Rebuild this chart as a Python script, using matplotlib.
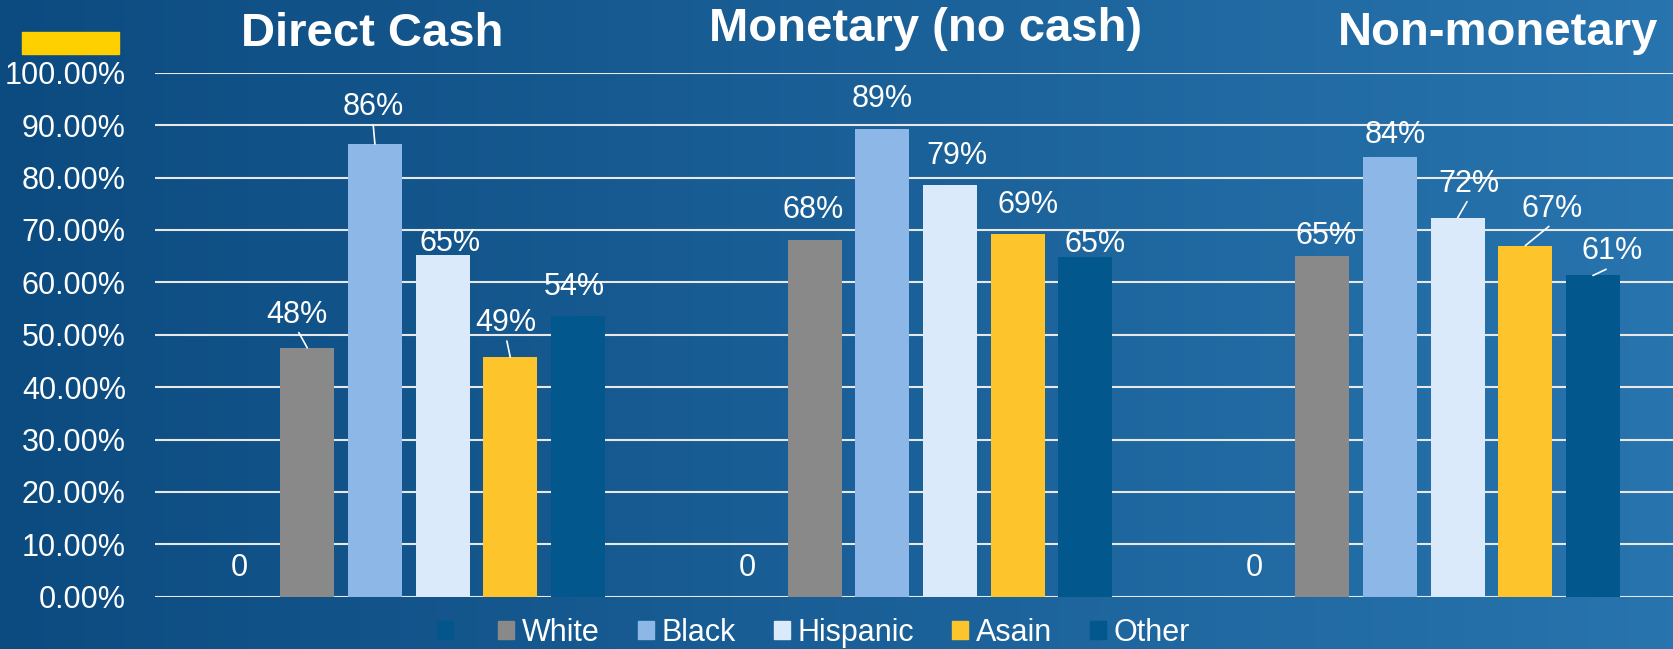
import matplotlib
matplotlib.use('Agg')
import matplotlib.pyplot as plt
from matplotlib.patches import Patch, Rectangle
from matplotlib.colors import LinearSegmentedColormap
import numpy as np

plt.rcParams['font.family'] = ['Liberation Sans', 'DejaVu Sans']

categories = ['Direct Cash', 'Monetary (no cash)', 'Non-monetary']
series_names = ['', 'White', 'Black', 'Hispanic', 'Asain', 'Other']

blank = [0, 0, 0]
white = [0.475, 0.681, 0.650]
black = [0.864, 0.892, 0.839]
hispanic = [0.652, 0.786, 0.723]
asain = [0.457, 0.692, 0.670]
other = [0.536, 0.648, 0.613]

blank_labels = ['0', '0', '0']
white_labels = ['48%', '68%', '65%']
black_labels = ['86%', '89%', '84%']
hispanic_labels = ['65%', '79%', '72%']
asain_labels = ['49%', '69%', '67%']
other_labels = ['54%', '65%', '61%']

values = [blank, white, black, hispanic, asain, other]
labels = [blank_labels, white_labels, black_labels, hispanic_labels, asain_labels, other_labels]
colors = ['#02568c', '#898989', '#8db7e6', '#dbeafb', '#fec42c', '#02578d']

# where each data label sits relative to the bar top (pixels), and which have leader lines
label_offsets = [
    [(0, 29), (0, 29), (0, 29)],
    [(-10, 33), (-2, 30), (4, 20)],
    [(-2, 37), (0, 30), (5, 22)],
    [(7, 12), (7, 29), (11, 34)],
    [(-4, 34), (10, 29), (27, 37)],
    [(-4, 29), (10, 13), (19, 24)],
]
leaders = {(1, 0), (2, 0), (4, 0), (3, 2), (4, 2), (5, 2)}

W, H = 1674, 649
fig = plt.figure(figsize=(W / 100, H / 100), dpi=100)

# gradient background
bg = fig.add_axes([0, 0, 1, 1], zorder=-10)
cmap = LinearSegmentedColormap.from_list('bg', ['#0c4b80', '#2874ae'])
bg.imshow(np.linspace(0, 1, 256).reshape(1, -1), aspect='auto', cmap=cmap, extent=[0, 1, 0, 1])
bg.axis('off')

ax = fig.add_axes([155 / W, 1 - 596.7 / H, (W - 155) / W, 524 / H])
ax.set_facecolor('none')

x = np.arange(len(categories))
step = 0.8 / len(series_names)
width = 0.1064
for i, (vals, labs, col) in enumerate(zip(values, labels, colors)):
    pos = x + (i - 2.5) * step
    ax.bar(pos, vals, width, color=col, zorder=3)
    for j in range(len(categories)):
        dx, dy = label_offsets[i][j]
        arrow = None
        if (i, j) in leaders:
            arrow = dict(arrowstyle='-', color='white', lw=1.2, shrinkA=0, shrinkB=0, relpos=(0.5, 0.0))
        ax.annotate(labs[j], xy=(pos[j], vals[j]), xytext=(dx, dy), textcoords='offset pixels',
                    ha='center', va='center', color='white', fontsize=22, zorder=5,
                    arrowprops=arrow)

ax.set_xlim(-0.5, 2.493)
ax.set_ylim(0, 1.0)
ax.set_yticks(np.arange(0, 1.01, 0.1))
ax.set_yticklabels([f'{v * 100:.2f}%' for v in np.arange(0, 1.01, 0.1)])
ax.set_xticks([])
ax.tick_params(axis='y', length=0, pad=21, labelsize=22, labelcolor='white')
ax.yaxis.grid(True, color='#e8e8e8', lw=1.5, zorder=0)
for s in ax.spines.values():
    s.set_visible(False)

# titles
fig.text(372 / W, 1 - 46.4 / H, categories[0], ha='center', va='baseline', color='white', fontsize=34, fontweight='bold')
fig.text(926 / W, 1 - 40.7 / H, categories[1], ha='center', va='baseline', color='white', fontsize=34, fontweight='bold')
fig.text(1498 / W, 1 - 45 / H, categories[2], ha='center', va='baseline', color='white', fontsize=34, fontweight='bold')

fig.patches.append(Rectangle((22.5 / W, 1 - 53.6 / H), 96.5 / W, 21.6 / H, transform=fig.transFigure,
                             color='#ffd000', zorder=2))

handles = [Patch(color=c) for c in colors]
leg = fig.legend(handles, series_names, loc='center', bbox_to_anchor=(813.5 / W, 1 - 633 / H), ncol=6,
                 frameon=False, fontsize=22, handlelength=0.52, handleheight=0.52, handletextpad=0.26,
                 columnspacing=1.24, borderpad=0)
for t in leg.get_texts():
    t.set_color('white')

fig.savefig('out.png', dpi=100)
